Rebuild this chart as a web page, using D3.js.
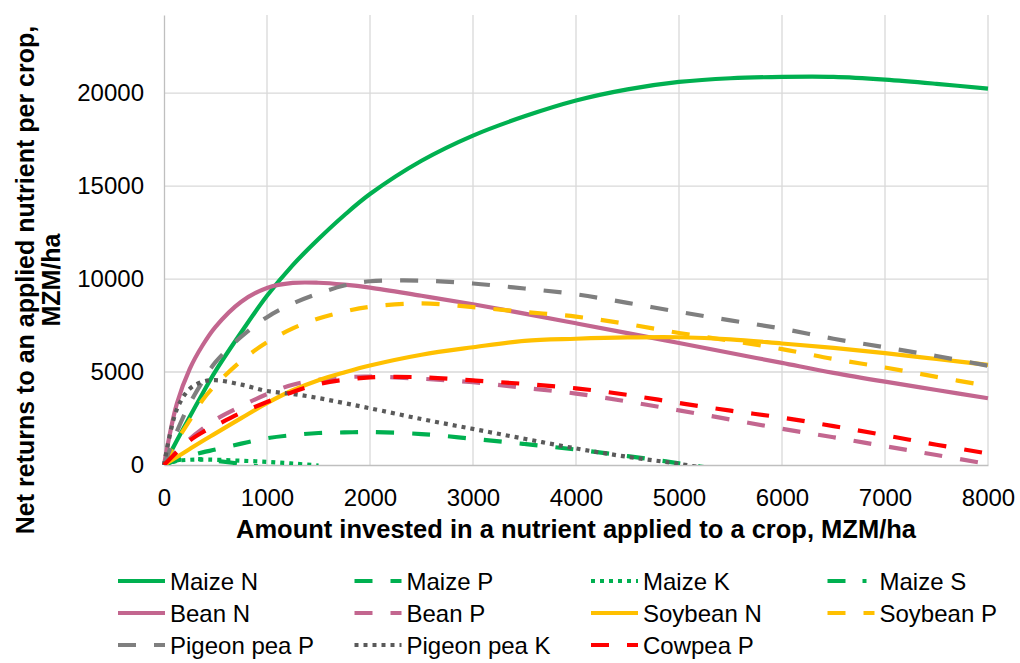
<!DOCTYPE html>
<html><head><meta charset="utf-8">
<script src="https://cdn.jsdelivr.net/npm/d3@7"></script>
<style>
body{margin:0;background:#fff}
svg{display:block}
text{font-family:"Liberation Sans",Arial,Helvetica,sans-serif;fill:#000}
</style>
</head><body>
<svg id="chart" width="1020" height="663"></svg>
<script>
// ---- data (MZM/ha) ----
const investment = [0,125,250,375,500,750,1000,1250,1500,1750,2000,2500,3000,3500,4000,4500,5000,5500,6000,6500,7000,7500,8000];
const maizeN   = [0,1320,2600,3850,5050,7140,9100,10750,12150,13430,14570,16360,17715,18750,19600,20200,20600,20800,20870,20870,20725,20500,20240];
const maizeP   = [0,280,500,680,830,1150,1440,1610,1720,1750,1770,1665,1410,1130,830,480,90,-330,null,null,null,null,null];
const maizeK   = [0,220,280,290,280,230,170,80,-30,null,null,null,null,null,null,null,null,null,null,null,null,null,null];
const maizeS   = [0,250,320,300,230,60,-150,null,null,null,null,null,null,null,null,null,null,null,null,null,null,null,null];
const beanN    = [0,3300,5170,6440,7430,8780,9520,9790,9800,9700,9540,9100,8645,8140,7620,7095,6560,6025,5490,4955,4480,4035,3590];
const beanP    = [0,750,1400,1950,2440,3160,3815,4320,4580,4720,4750,4640,4450,4150,3840,3415,2940,2445,1950,1490,1010,535,50];
const soybeanN = [0,430,860,1290,1700,2520,3330,4020,4560,4980,5350,5930,6330,6680,6790,6860,6870,6760,6535,6297,6013,5700,5380];
const soybeanP = [0,1300,2400,3500,4300,5600,6600,7350,7880,8250,8510,8690,8490,8230,7980,7580,7100,6680,6235,5700,5245,4740,4255];
const pigeonP  = [0,1800,3300,4500,5530,6900,7950,8680,9220,9650,9880,9910,9760,9490,9180,8720,8235,7780,7330,6790,6330,5860,5340];
const pigeonK  = [0,3000,4100,4480,4560,4320,3980,3820,3600,3330,3050,2470,1940,1410,890,440,60,-400,null,null,null,null,null];
const cowpeaP  = [0,700,1320,1760,2120,2810,3390,3930,4350,4580,4710,4720,4550,4360,4125,3770,3335,2920,2550,2090,1600,1090,620];

const seriesNames = ["Maize N","Maize P","Maize K","Maize S","Bean N","Bean P","Soybean N","Soybean P","Pigeon pea P","Pigeon pea K","Cowpea P"];
const seriesValues = [maizeN,maizeP,maizeK,maizeS,beanN,beanP,soybeanN,soybeanP,pigeonP,pigeonK,cowpeaP];
const xTicks = [0,1000,2000,3000,4000,5000,6000,7000,8000];
const yTicks = [0,5000,10000,15000,20000];
const xTitle = "Amount invested in a nutrient applied to a crop, MZM/ha";
const yTitleLines = ["Net returns to an applied nutrient per crop,","MZM/ha"];

// ---- styles ----
const GREEN="#00b050", PINK="#c3668f", GOLD="#ffc000", GREY="#7f7f7f", DGREY="#5a5a5a", RED="#ff0000";
const DASH="18,18", DOT="4,5", DASHDOT="18,17,4,17";
const styles = [
  {c:GREEN,d:null},{c:GREEN,d:DASH},{c:GREEN,d:DOT},{c:GREEN,d:DASHDOT},
  {c:PINK,d:null},{c:PINK,d:DASH},{c:GOLD,d:null},{c:GOLD,d:DASH},
  {c:GREY,d:DASH},{c:DGREY,d:DOT},{c:RED,d:DASH}
];

const svg = d3.select("#chart");
const x = d3.scaleLinear().domain([0,8000]).range([164,988]);
const y = d3.scaleLinear().domain([0,24200]).range([465,15]);

// gridlines
const grid = svg.append("g");
grid.selectAll("line.v").data(xTicks.filter(d=>d>0)).join("line")
  .attr("x1",d=>x(d)).attr("x2",d=>x(d)).attr("y1",y(0)).attr("y2",y(24200))
  .attr("stroke","#d9d9d9").attr("stroke-width",1.3);
grid.selectAll("line.h").data(yTicks.filter(d=>d>0)).join("line")
  .attr("x1",x(0)).attr("x2",x(8000)).attr("y1",d=>y(d)).attr("y2",d=>y(d))
  .attr("stroke","#d9d9d9").attr("stroke-width",1.3);

// axes
const fs = 24;
const yAxis = svg.append("g").attr("transform",`translate(${x(0)},0)`)
  .call(d3.axisLeft(y).tickValues(yTicks).tickSize(0).tickPadding(20).tickFormat(d3.format("d")));
const xAxis = svg.append("g").attr("transform",`translate(0,${y(0)})`)
  .call(d3.axisBottom(x).tickValues(xTicks).tickSize(0).tickPadding(24).tickFormat(d3.format("d")));
[xAxis,yAxis].forEach(a=>{
  a.select(".domain").attr("stroke","#bfbfbf").attr("stroke-width",1.3);
  a.selectAll("text").attr("font-size",fs).attr("font-family","Liberation Sans, Arial, sans-serif").attr("fill","#111");
});

// clip
svg.append("clipPath").attr("id","plotclip").append("rect")
  .attr("x",x(0)-3).attr("y",y(24200)).attr("width",x(8000)-x(0)+6).attr("height",y(0)-y(24200));

const line = d3.line()
  .defined(d=>d[1]!==null)
  .x(d=>x(d[0])).y(d=>y(d[1]))
  .curve(d3.curveCatmullRom.alpha(0.5));

const lines = svg.append("g").attr("clip-path","url(#plotclip)");
seriesValues.forEach((vals,i)=>{
  const pts = investment.map((xv,j)=>[xv,vals[j]]);
  lines.append("path").datum(pts)
    .attr("d",line).attr("fill","none")
    .attr("stroke",styles[i].c).attr("stroke-width",4.2)
    .attr("stroke-dasharray",styles[i].d)
    .attr("stroke-linejoin","round");
});

// titles
svg.append("text").attr("x",(x(0)+x(8000))/2).attr("y",538)
  .attr("text-anchor","middle").attr("font-size",25.5).attr("font-weight","bold").text(xTitle);
const yt = svg.append("text").attr("transform","translate(34,280) rotate(-90)")
  .attr("text-anchor","middle").attr("font-size",25).attr("font-weight","bold");
yTitleLines.forEach((t,i)=>yt.append("tspan").attr("x",0).attr("y",i*26).text(t));

// legend
const leg = svg.append("g");
seriesNames.forEach((name,i)=>{
  const col = i%4, row = Math.floor(i/4);
  const lx = 118 + col*236.5, ly = 581 + row*32;
  leg.append("line").attr("x1",lx).attr("x2",lx+47).attr("y1",ly).attr("y2",ly)
    .attr("stroke",styles[i].c).attr("stroke-width",4.2).attr("stroke-dasharray",styles[i].d);
  leg.append("text").attr("x",lx+52).attr("y",ly+8.5).attr("font-size",fs).text(name);
});
</script>
</body></html>
